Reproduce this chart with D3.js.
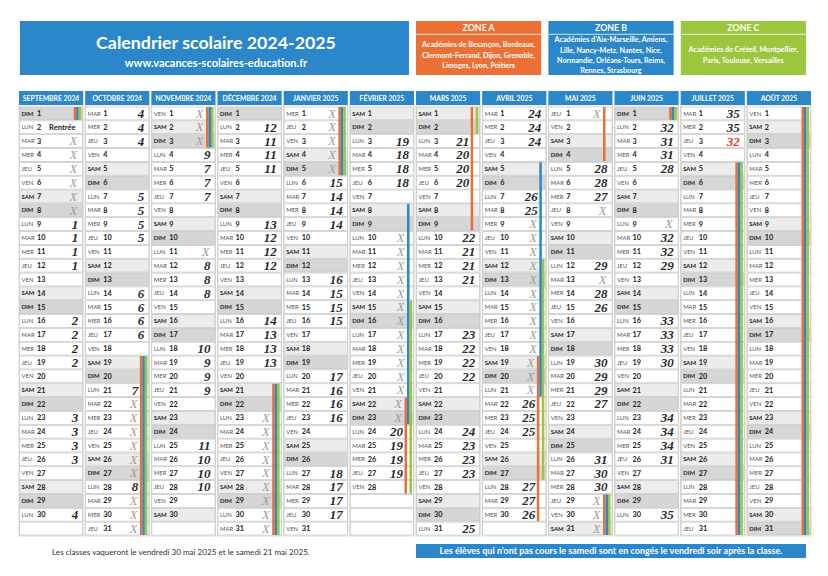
<!DOCTYPE html>
<html><head><meta charset="utf-8">
<script src="https://cdn.jsdelivr.net/npm/d3@7"></script>
<style>body{margin:0;background:#fff}svg{display:block}</style>
</head><body><svg id="c" width="828" height="576"></svg>
<script>
// ---------- DATA ----------
const monthNames = ["SEPTEMBRE 2024","OCTOBRE 2024","NOVEMBRE 2024","DÉCEMBRE 2024","JANVIER 2025","FÉVRIER 2025","MARS 2025","AVRIL 2025","MAI 2025","JUIN 2025","JUILLET 2025","AOÛT 2025"];
const firstWeekday = [0,2,5,0,3,6,6,2,4,0,2,5]; // 0 = DIM
const daysInMonth = [30,31,30,31,31,28,31,30,31,30,31,31];
const dayNames = ["DIM","LUN","MAR","MER","JEU","VEN","SAM"];

const sepMarks = ["","Rentrée","X","X","X","X","X","X","1","1","1","1","","","","2","2","2","2","","","","3","3","3","3","","","","4"];
const octMarks = ["4","4","4","","","","5","5","5","5","","","","6","6","6","6","","","","7","X","X","X","X","X","X","8","X","X","X"];
const novMarks = ["X","X","X","9","7","7","7","","","","X","8","8","8","","","","10","9","9","9","","","","11","10","10","10","",""];
const decMarks = ["","12","11","11","11","","","","13","12","12","12","","","","14","13","13","13","","","","X","X","X","X","X","X","X","X","X"];
const janMarks = ["X","X","X","X","X","15","14","14","14","","","","16","15","15","15","","","","17","16","16","16","","","","18","17","17","17",""];
const febMarks = ["","","19","18","18","18","","","","X","X","X","X","X","X","X","X","X","X","X","X","X","X","20","19","19","19",""];
const marMarks = ["","","21","20","20","20","","","","22","21","21","21","","","","23","22","22","22","","","","24","23","23","23","","","","25"];
const aprMarks = ["24","24","24","","","","26","25","X","X","X","X","X","X","X","X","X","X","X","X","X","26","25","25","","","","27","27","26"];
const mayMarks = ["X","","","","28","28","27","X","","","","29","X","28","26","","","","30","29","29","27","","","","31","30","30","X","X","X"];
const junMarks = ["","32","31","31","28","","","","X","32","32","29","","","","33","33","33","30","","","","34","34","34","31","","","","35"];
const julMarks = ["35","35","32"];
const augMarks = [];
const allMarks = [sepMarks,octMarks,novMarks,decMarks,janMarks,febMarks,marMarks,aprMarks,mayMarks,junMarks,julMarks,augMarks];
const redMarks = [[10,3]]; // month index, day

const zoneAHolidays = [["2024-09-01","2024-09-01"],["2024-10-19","2024-11-03"],["2024-12-21","2025-01-05"],["2025-02-22","2025-03-09"],["2025-04-19","2025-05-04"],["2025-05-29","2025-06-01"],["2025-07-05","2025-08-31"]];
const zoneBHolidays = [["2024-09-01","2024-09-01"],["2024-10-19","2024-11-03"],["2024-12-21","2025-01-05"],["2025-02-08","2025-02-23"],["2025-04-05","2025-04-21"],["2025-05-29","2025-06-01"],["2025-07-05","2025-08-31"]];
const zoneCHolidays = [["2024-09-01","2024-09-01"],["2024-10-19","2024-11-03"],["2024-12-21","2025-01-05"],["2025-02-15","2025-03-02"],["2025-04-12","2025-04-27"],["2025-05-29","2025-06-01"],["2025-07-05","2025-08-31"]];

const zoneNames = ["ZONE A","ZONE B","ZONE C"];
const zoneColors = ["#ec7035","#2b87c9","#9cc73c"];
const zoneLines = [
  ["Académies de Besançon, Bordeaux,","Clermont-Ferrand, Dijon, Grenoble,","Limoges, Lyon, Poitiers"],
  ["Académies d'Aix-Marseille, Amiens,","Lille, Nancy-Metz, Nantes, Nice,","Normandie, Orléans-Tours, Reims,","Rennes, Strasbourg"],
  ["Académies de Créteil, Montpellier,","Paris, Toulouse, Versailles"]
];

// ---------- DRAW ----------
const svg = d3.select("#c");
const SANS = "Lato, 'Open Sans', 'DejaVu Sans', sans-serif";
const SERIF = "'Liberation Serif', 'DejaVu Serif', serif";
const BLUE = "#2b87c9";

// title box
svg.append("rect").attr("x",20).attr("y",21).attr("width",389).attr("height",54).attr("fill",BLUE);
svg.append("text").attr("x",216).attr("y",49).attr("text-anchor","middle").attr("fill","#fff")
  .attr("font-family",SANS).attr("font-weight","bold").attr("font-size",17.8).text("Calendrier scolaire 2024-2025");
svg.append("text").attr("x",216).attr("y",67).attr("text-anchor","middle").attr("fill","#fff")
  .attr("font-family",SANS).attr("font-weight","bold").attr("font-size",11).text("www.vacances-scolaires-education.fr");

// zone boxes
const zx = d3.scaleBand().domain(d3.range(3)).range([416,806]).paddingInner(0.054);
const zoneLineY = [[46.5,57.5,68],[42.3,52.5,62.7,72.9],[52,62.5]];
zoneNames.forEach((name,i)=>{
  const gx = zx(i), w = zx.bandwidth();
  svg.append("rect").attr("x",gx).attr("y",21).attr("width",w).attr("height",54).attr("fill",zoneColors[i]);
  svg.append("line").attr("x1",gx).attr("x2",gx+w).attr("y1",34.3).attr("y2",34.3).attr("stroke","#fff").attr("stroke-width",0.8);
  svg.append("text").attr("x",gx+w/2).attr("y",31.3).attr("text-anchor","middle").attr("fill","#fff")
    .attr("font-family",SANS).attr("font-weight","bold").attr("font-size",8.8).text(name);
  zoneLines[i].forEach((t,j)=>{
    svg.append("text").attr("x",gx+w/2).attr("y",zoneLineY[i][j]).attr("text-anchor","middle").attr("fill","#fff")
      .attr("font-family",SANS).attr("font-weight","bold").attr("font-size",7.2).text(t);
  });
});

// calendar scales
const x = d3.scaleBand().domain(d3.range(12)).range([19,811]).paddingInner(0.03);
const y = d3.scaleBand().domain(d3.range(1,32)).range([107,535]).paddingInner(0.07);
const W = x.bandwidth(), H = y.bandwidth();

// holiday segments per zone
function parse(s){const [yy,mm,dd]=s.split("-").map(Number);return {m:(yy-2024)*12+mm-9,d:dd};}
const slots = [9.5,7,4.5];
const zoneSegs = [zoneAHolidays,zoneBHolidays,zoneCHolidays].map(ranges=>{
  const segs=[];
  ranges.forEach(([a,b])=>{
    const s=parse(a), e=parse(b);
    for(let m=s.m;m<=e.m;m++){
      segs.push({m, d0: m===s.m?s.d:1, d1: m===e.m?e.d:daysInMonth[m]});
    }
  });
  return segs;
});
function markRight(m,day){
  let off = 5;
  zoneSegs.forEach((segs,z)=>{
    if(segs.some(s=>s.m===m&&day>=s.d0&&day<=s.d1)) off = Math.max(off, slots[z]+1.5);
  });
  return W-off;
}

const cols = svg.selectAll("g.month").data(monthNames).join("g").attr("class","month")
  .attr("transform",(d,i)=>`translate(${x(i)},0)`);

cols.append("rect").attr("x",0).attr("y",105).attr("width",W).attr("height",431).attr("fill","#fff")
  .attr("stroke","#d0d0d0").attr("stroke-width",0.8);
cols.append("rect").attr("x",0).attr("y",91).attr("width",W).attr("height",14).attr("fill",BLUE);
cols.append("text").attr("x",W/2).attr("y",101).attr("text-anchor","middle").attr("fill","#fff")
  .attr("font-family",SANS).attr("font-weight","bold").attr("font-size",6.8).text(d=>d);

cols.each(function(name,i){
  const g = d3.select(this);
  const days = d3.range(1,32).map(day=>{
    const valid = day<=daysInMonth[i];
    const wd = (firstWeekday[i]+day-1)%7;
    return {day, valid, wd, mark: valid ? (allMarks[i][day-1]||"") : ""};
  });
  const row = g.selectAll("g.day").data(days).join("g").attr("class","day")
    .attr("transform",d=>`translate(0,${y(d.day)})`);
  row.append("rect").attr("x",0.5).attr("y",0).attr("width",W-1).attr("height",H)
    .attr("fill",d=>!d.valid?"#fff":d.wd===6?"#ececec":d.wd===0?"#d6d6d6":"#fff")
    .attr("stroke","#c4c4c4").attr("stroke-width",0.7);
  const v = row.filter(d=>d.valid);
  v.append("text").attr("x",2.5).attr("y",H/2+2.1).attr("font-family",SANS)
    .attr("font-size",5.9).attr("font-weight",d=>(d.wd===0||d.wd===6)?"bold":"normal")
    .attr("fill",d=>(d.wd===0||d.wd===6)?"#222":"#555").text(d=>dayNames[d.wd]);
  v.append("text").attr("x",18).attr("y",H/2+2.5).attr("font-family",SANS)
    .attr("font-size",7.3).attr("font-weight","bold").attr("fill","#222").text(d=>d.day);
  v.filter(d=>d.mark==="Rentrée").append("text").attr("x",30).attr("y",H/2+2.6)
    .attr("font-family",SANS).attr("font-size",7.6).attr("font-weight","bold").attr("fill","#222").text(d=>d.mark);
  v.filter(d=>d.mark==="X").append("text").attr("x",d=>markRight(i,d.day)-1).attr("y",H/2+4.2)
    .attr("text-anchor","end").attr("font-family",SERIF).attr("font-style","italic")
    .attr("font-size",12.5).attr("fill","#9c9c9c").text("X");
  v.filter(d=>d.mark!==""&&d.mark!=="X"&&d.mark!=="Rentrée").append("text").attr("x",d=>markRight(i,d.day)).attr("y",H/2+4.4)
    .attr("text-anchor","end").attr("font-family",SERIF).attr("font-style","italic").attr("font-weight","bold")
    .attr("font-size",13)
    .attr("fill",d=>redMarks.some(r=>r[0]===i&&r[1]===d.day)?"#e23a2e":"#2a2a2a").text(d=>d.mark);
});

// holiday bars
zoneSegs.forEach((segs,z)=>{
  svg.selectAll(null).data(segs).join("rect")
    .attr("x",d=>x(d.m)+W-slots[z]).attr("width",2.5)
    .attr("y",d=>y(d.d0)).attr("height",d=>y(d.d1)+H-y(d.d0))
    .attr("fill",zoneColors[z]);
});

// footer
svg.append("text").attr("x",52).attr("y",554.5).attr("font-family",SANS).attr("font-size",8.1).attr("fill","#333")
  .text("Les classes vaqueront le vendredi 30 mai 2025 et le samedi 21 mai 2025.");
svg.append("rect").attr("x",416).attr("y",544).attr("width",390).attr("height",14).attr("fill",BLUE);
svg.append("text").attr("x",611).attr("y",554.2).attr("text-anchor","middle").attr("font-family",SANS)
  .attr("font-weight","bold").attr("font-size",9).attr("fill","#fff")
  .text("Les élèves qui n'ont pas cours le samedi sont en congés le vendredi soir après la classe.");
</script></body></html>
